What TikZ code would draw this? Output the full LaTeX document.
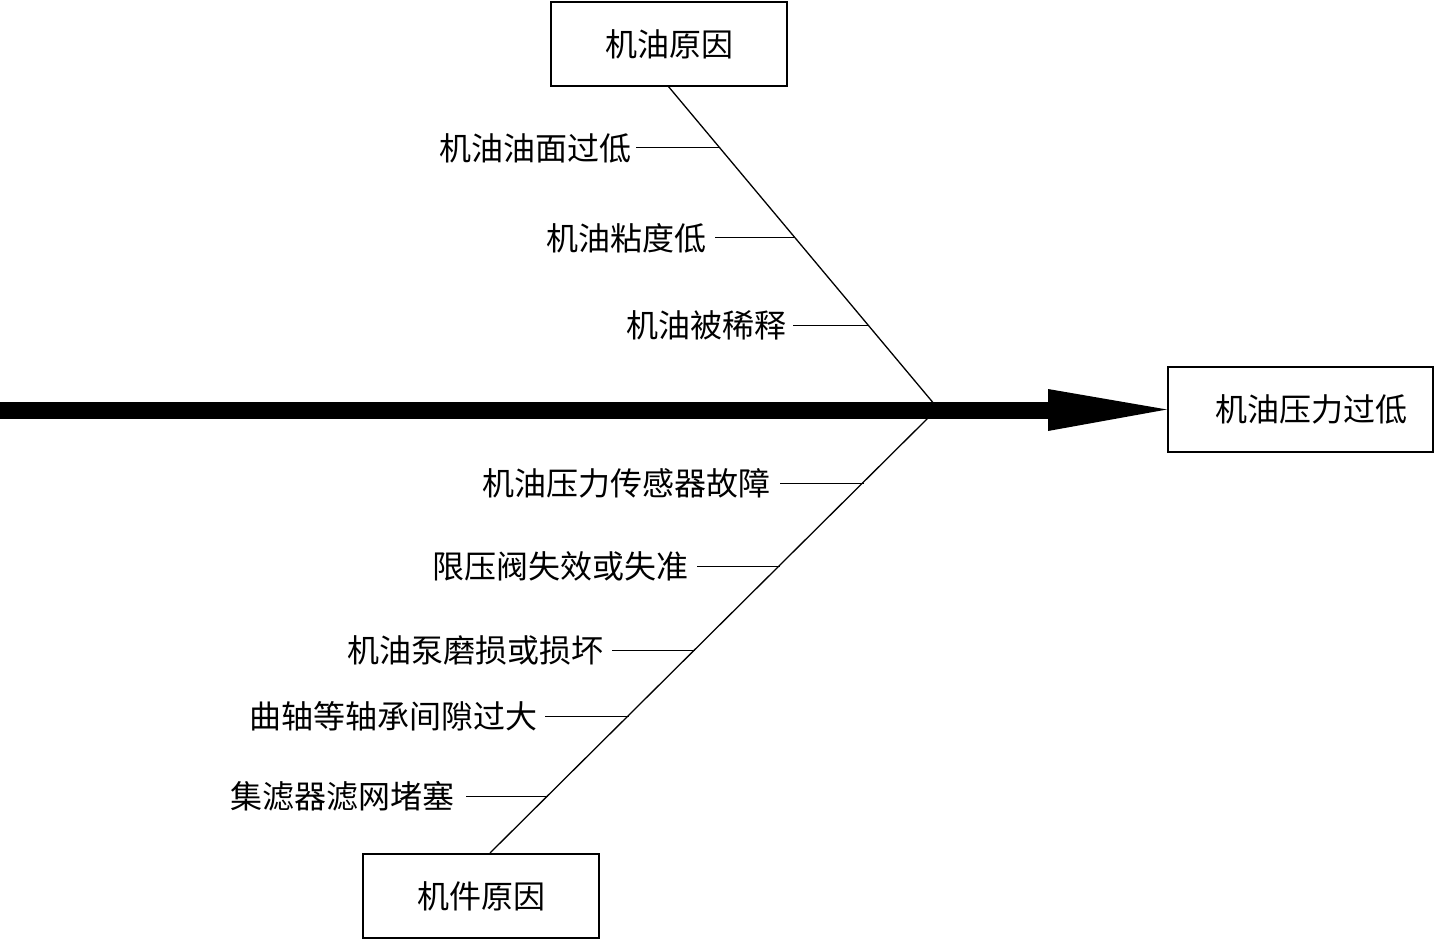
\documentclass[tikz,border=0pt]{standalone}
\usepackage{fontspec}
\newfontfamily\cjk{Noto Sans CJK SC}
\begin{document}
\begin{tikzpicture}[x=1pt,y=-1pt,
  box/.style={draw,line width=2.2pt,minimum width=236pt,minimum height=84pt,inner sep=0pt,font=\cjk\fontsize{32}{32}\selectfont},
  cause/.style={anchor=east,inner sep=0pt,font=\cjk\fontsize{32}{32}\selectfont},
  bone/.style={line width=1.3pt},
  twig/.style={line width=1pt}]
\useasboundingbox (0,0) rectangle (1434,941);
% boxes
\node[box] (top) at (669,44) {机油原因};
\node[box] (bot) at (481,896) {机件原因};
\node[box,minimum width=265pt,minimum height=85pt] (eff) at (1300.5,409.5) {\hspace*{22pt}机油压力过低};
% spine
\coordinate (s0) at (0,410);
\coordinate (s1) at (1050,410);
\coordinate (hb1) at (1048,389);
\coordinate (hb2) at (1048,431);
\draw[line width=17pt] (s0) -- (s1);
\fill (hb1) -- (eff.west) -- (hb2) -- cycle;
% bones
\coordinate (tJ) at (935,405);
\coordinate (tS) at (668,86);
\coordinate (bJ) at (930,416);
\coordinate (bS) at (490,853);
\draw[bone] (tS) -- (tJ);
\draw[bone] (bJ) -- (bS);
% top causes
\node[cause] (c1) at (632,148) {机油油面过低};
\node[cause] (c2) at (707,238) {机油粘度低};
\node[cause] (c3) at (787,325) {机油被稀释};
\coordinate (p1) at (720,148);
\coordinate (p2) at (794,238);
\coordinate (p3) at (868,325);
\draw[twig] ([xshift=4pt]c1.east) -- (p1);
\draw[twig] ([xshift=8pt]c2.east) -- (p2);
\draw[twig] ([xshift=6pt]c3.east) -- (p3);
% bottom causes
\node[cause] (d1) at (771,483) {机油压力传感器故障};
\node[cause] (d2) at (689,566) {限压阀失效或失准};
\node[cause] (d3) at (604,650) {机油泵磨损或损坏};
\node[cause] (d4) at (538,716) {曲轴等轴承间隙过大};
\node[cause] (d5) at (455,796) {集滤器滤网堵塞};
\coordinate (q1) at (864,483);
\coordinate (q2) at (780,566);
\coordinate (q3) at (695,650);
\coordinate (q4) at (629,716);
\coordinate (q5) at (548,796);
\draw[twig] ([xshift=9pt]d1.east) -- (q1);
\draw[twig] ([xshift=8pt]d2.east) -- (q2);
\draw[twig] ([xshift=8pt]d3.east) -- (q3);
\draw[twig] ([xshift=7pt]d4.east) -- (q4);
\draw[twig] ([xshift=11pt]d5.east) -- (q5);
\end{tikzpicture}
\end{document}
